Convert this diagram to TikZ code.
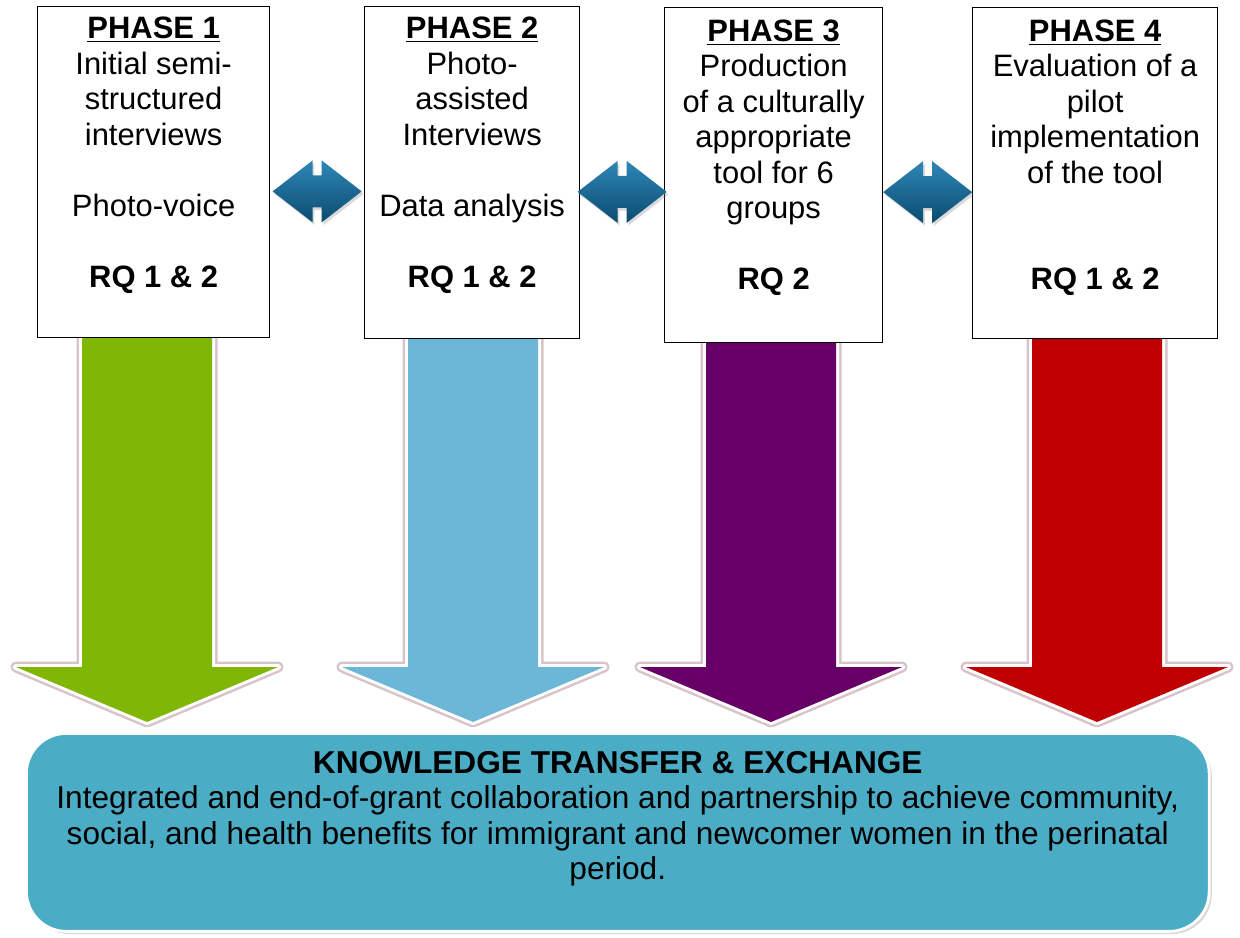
\documentclass[tikz,border=0pt]{standalone}
\usepackage{fontspec}
\setmainfont{Liberation Sans}
\usetikzlibrary{calc,
                shadows
                }

\definecolor{gruen}{RGB}{128,182,6}
\definecolor{hellblau}{RGB}{108,182,216}
\definecolor{lila}{RGB}{102,0,102}
\definecolor{rot}{RGB}{192,0,0}
\definecolor{aqua}{RGB}{75,172,198}
\definecolor{pfeiloben}{RGB}{46,135,183}
\definecolor{pfeilunten}{RGB}{10,75,112}
\definecolor{schatten}{RGB}{215,195,200}

% Blockpfeil nach unten: #1 = x-Mitte, #2 = Farbe
\newcommand{\pfeilrunter}[2]{%
  \path[blockpfeil=#2] (#1-65,337) -- (#1+65,337) -- (#1+65,667)
    -- (#1+131,667) -- (#1,722) -- (#1-131,667) -- (#1-65,667) -- cycle;
}

% Doppelpfeil um einen Mittelpunkt #1
\newcommand{\doppelpfeil}[1]{%
  \path[doppelstil] (#1) ++(-44.5,0) -- ++(40,-31) -- ++(0,15) -- ++(9,0)
    -- ++(0,-15) -- ++(40,31) -- ++(-40,31) -- ++(0,-15) -- ++(-9,0)
    -- ++(0,15) -- cycle;
}

\begin{document}
\begin{tikzpicture}[x=0.02cm, y=-0.02cm,
    phase/.style={draw=black, line width=0.75pt, fill=white, inner sep=0pt, anchor=north west},
    phasetext/.style={align=center, inner sep=0pt, anchor=north,
        font=\fontsize{17.6pt}{20.2pt}\selectfont},
    doppelstil/.style={top color=pfeiloben, bottom color=pfeilunten,
        drop shadow={opacity=.3, shadow xshift=1pt, shadow yshift=-1.5pt}},
    blockpfeil/.style={preaction={draw=schatten, line width=0.22cm, line join=round},
        preaction={draw=white, line width=0.12cm, line join=round}, fill=#1}
    ]
    \useasboundingbox (0,0) rectangle (1240,937);

    % Pfeile von den Phasen nach unten
    \pfeilrunter{147}{gruen}
    \pfeilrunter{473}{hellblau}
    \pfeilrunter{771}{lila}
    \pfeilrunter{1097}{rot}

    % Kaesten der vier Phasen
    \node[phase, minimum width=4.64cm, minimum height=6.62cm] (p1) at (37,6) {};
    \node[phase, minimum width=4.30cm, minimum height=6.64cm] (p2) at (364,6) {};
    \node[phase, minimum width=4.36cm, minimum height=6.70cm] (p3) at (664,7) {};
    \node[phase, minimum width=4.90cm, minimum height=6.62cm] (p4) at (972,7) {};

    % Texte in den Kaesten
    \node[phasetext] (t1) at ($(p1.north)+(0,11)$) {\underline{\textbf{PHASE 1}}\\
        Initial semi-\\ structured\\ interviews\\[20.2pt] Photo-voice\\[20.2pt]
        \textbf{RQ 1 \& 2}};
    \node[phasetext] (t2) at ($(p2.north)+(0,11)$) {\underline{\textbf{PHASE 2}}\\
        Photo-\\ assisted\\ Interviews\\[20.2pt] Data analysis\\[20.2pt]
        \textbf{RQ 1 \& 2}};
    \node[phasetext] (t3) at ($(p3.north)+(0,12.5)$) {\underline{\textbf{PHASE 3}}\\
        Production\\ of a culturally\\ appropriate\\ tool for 6\\ groups\\[20.2pt]
        \textbf{RQ 2}};
    \node[phasetext] (t4) at ($(p4.north)+(0,12.5)$) {\underline{\textbf{PHASE 4}}\\
        Evaluation of a\\ pilot\\ implementation\\ of the tool\\[40.4pt]
        \textbf{RQ 1 \& 2}};

    % Doppelpfeile zwischen den Phasen
    \coordinate (d12) at ($(p1.east)!.5!(p2.west)+(0,19)$);
    \coordinate (d23) at ($(p2.east)!.5!(p3.west)+(0,18)$);
    \coordinate (d34) at ($(p3.east)!.5!(p4.west)+(0,18)$);
    \doppelpfeil{d12}
    \doppelpfeil{d23}
    \doppelpfeil{d34}

    % Kasten Wissenstransfer
    \node[draw=white, line width=1.6pt, fill=aqua, rounded corners=0.8cm,
        minimum width=23.66cm, minimum height=3.96cm, anchor=north west,
        drop shadow={opacity=.3, shadow xshift=1.5pt, shadow yshift=-1.5pt}]
        (kte) at (25,732) {};
    \node[phasetext, font=\fontsize{18pt}{20.2pt}\selectfont] (ktetext)
        at ($(kte.north)+(0,19)$) {%
        \textbf{KNOWLEDGE TRANSFER \& EXCHANGE}\\
        Integrated and end-of-grant collaboration and partnership to achieve community,\\
        social, and health benefits for immigrant and newcomer women in the perinatal\\
        period.};
\end{tikzpicture}
\end{document}
